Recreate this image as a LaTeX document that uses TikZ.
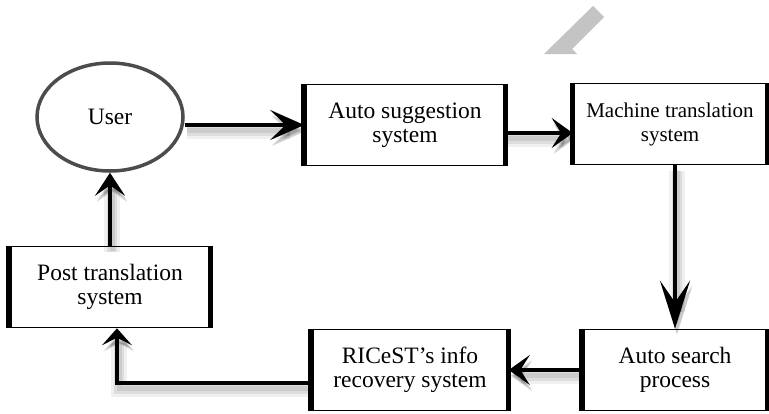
\documentclass[tikz,border=0pt]{standalone}
\usepackage{fontspec}
\setmainfont{Liberation Serif}
\usetikzlibrary{arrows.meta,calc,shapes.geometric}

\tikzset{
  x=1pt, y=-1pt,
  txt/.style={font=\fontsize{23.5}{24}\selectfont, align=center, text=black},
  blockbox/.style={txt, draw=black, line width=1.6pt, minimum width=#1, minimum height=81pt, inner sep=0pt},
  ring/.style={txt, ellipse, draw=black!70, line width=3.5pt, minimum width=146pt, minimum height=108pt},
  flow/.style={draw=black, line width=4.5pt,
    preaction={draw=black, opacity=0.06, line width=16pt, transform canvas={shift={(2pt,-6pt)}}},
    preaction={draw=black, opacity=0.08, line width=10pt, transform canvas={shift={(2pt,-6pt)}}},
    preaction={draw=black, opacity=0.08, line width=5pt, transform canvas={shift={(2pt,-5pt)}}}},
  head/.style={-{Stealth[length=#1, width=30pt, inset=0.45*#1]}},
  watermark/.style={fill=black!23, draw=none}
}

% heavy left and right sides of a block
\newcommand{\heavysides}[1]{%
  \draw[line width=5.5pt] (#1.north west) -- (#1.south west);
  \draw[line width=5pt] (#1.north east) -- (#1.south east);
}

\begin{document}
\begin{tikzpicture}
\useasboundingbox (0,0) rectangle (769,413);
\fill[white] (0,0) rectangle (769,413);

% grey slanted mark at the top
\fill[watermark] (544,54) -- (593,6) -- (604,17) -- (572,49) -- (577,54) -- cycle;

% nodes
\node[ring] (user) at (110,117) {User};
\node[blockbox=200pt] (auto) at (405,125) {Auto suggestion\\system};
\node[blockbox=193pt, font=\fontsize{21}{24}\selectfont] (mt) at (670,124) {Machine translation\\system};
\node[blockbox=184pt] (search) at (675,370) {Auto search\\process};
\node[blockbox=196pt] (rice) at (410,370) {RICeST's info\\recovery system};
\node[blockbox=200pt] (post) at (110,287) {Post translation\\system};

\heavysides{auto}
\heavysides{mt}
\heavysides{search}
\heavysides{rice}
\heavysides{post}

% connectors
\draw[flow, head=34pt] (user.east |- auto.west) -- (auto.west);
\draw[flow, head=21pt] ([yshift=-8pt]auto.east) -- ([yshift=-8pt]auto.east -| mt.west);
\draw[flow, head=48pt] (mt.south -| search.north) -- (search.north);
\draw[flow, head=21pt] (search.west) -- (search.west -| rice.east);
\draw[flow, head=17pt] ([yshift=-13pt]rice.west) -| ([xshift=7pt]post.south);
\draw[flow, head=23pt] (post.north) -- (user.south);
\end{tikzpicture}
\end{document}
